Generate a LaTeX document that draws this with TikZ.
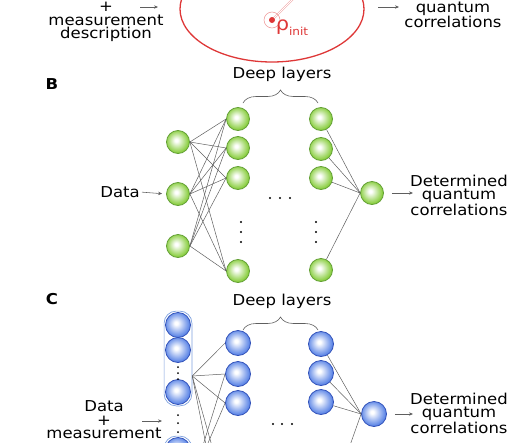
\documentclass[tikz,border=0pt]{standalone}
\usepackage{fontspec}
\setmainfont{DejaVu Sans}[FakeStretch=1.1]
\usetikzlibrary{arrows.meta,decorations.pathreplacing,fit}

\definecolor{ballgreen}{RGB}{135,205,60}
\definecolor{rimgreen}{RGB}{100,160,55}
\definecolor{ballblue}{RGB}{90,132,230}
\definecolor{rimblue}{RGB}{50,82,185}
\definecolor{boxblue}{RGB}{125,160,222}
\definecolor{initred}{RGB}{222,55,55}
\definecolor{wiregray}{RGB}{95,95,95}

\pgfdeclareradialshading{greenball}{\pgfpoint{-4bp}{4bp}}{color(0bp)=(white); color(3bp)=(white); color(16bp)=(ballgreen!60!white); color(25bp)=(ballgreen); color(50bp)=(ballgreen)}
\pgfdeclareradialshading{blueball}{\pgfpoint{-4bp}{4bp}}{color(0bp)=(white); color(3bp)=(white); color(16bp)=(ballblue!60!white); color(25bp)=(ballblue); color(50bp)=(ballblue)}

\begin{document}
\begin{tikzpicture}[x=1pt,y=-1pt,font=\fontsize{15}{13.5}\selectfont,
  green neuron/.style={circle,draw=rimgreen,line width=0.8pt,shade,shading=greenball,minimum size=23pt,inner sep=0pt},
  blue neuron/.style={circle,draw=rimblue,line width=0.8pt,shade,shading=blueball,minimum size=25pt,inner sep=0pt},
  wire/.style={draw=wiregray,line width=0.5pt},
  thin arrow/.style={draw=wiregray,line width=0.55pt,-{Stealth[length=4pt,width=3.4pt]}},
  layer brace/.style={draw=wiregray,line width=0.6pt,decorate,decoration={brace,amplitude=13pt}},
  column box/.style={draw=boxblue,line width=0.7pt,rounded corners=12pt,inner sep=1pt},
  side text/.style={align=center,inner sep=0pt},
  panel/.style={font=\fontsize{15}{15}\selectfont\bfseries}]

\useasboundingbox (0,0) rectangle (530,442);
\clip (0,0) rectangle (530,442);

% top panel
\draw[initred,line width=1.3pt] (272,9) ellipse [x radius=92,y radius=53];
\draw[initred!45,line width=0.4pt,double=white,double distance=1pt] (272,20) -- (298,-6);
\draw[initred!55,line width=0.5pt] (272,20) circle [radius=8];
\fill[initred] (272,20) circle [radius=3];
\node[initred,inner sep=0pt] (rho) at (292,28) {\fontsize{19}{19}\selectfont ρ\raisebox{-0.5ex}{\fontsize{11}{11}\selectfont init}};

\node[side text] (adesc) at (106,22) {+\\measurement\\description};
\node[side text] (ares) at (453,15) {quantum\\correlations};
\coordinate (ain1) at (140,7);
\coordinate (ain2) at (158,7);
\coordinate (aout1) at (378,7);
\coordinate (aout2) at (399,7);
\draw[thin arrow] (ain1) -- (ain2);
\draw[thin arrow] (aout1) -- (aout2);

% panel B
\node[panel] (blabel) at (52,84) {B};
\node (btitle) at (282,74) {Deep layers};
\draw[layer brace] (243,103) -- (318,103);

\foreach \n/\y in {1/142,2/194,3/246}
  \node[green neuron] (bi\n) at (178,\y) {};
\foreach \n/\y in {1/119,2/148,3/178,4/271}
  \node[green neuron] (ba\n) at (238,\y) {};
\foreach \n/\y in {1/119,2/149,3/178,4/270}
  \node[green neuron] (bb\n) at (321,\y) {};
\node[green neuron] (bout) at (372,193) {};

\foreach \i in {1,2,3}
  \foreach \j in {1,...,4}
    \draw[wire] (bi\i.east) -- (ba\j.west);
\foreach \j in {1,...,4}
  \draw[wire] (bb\j) -- (bout.west);

\foreach \y in {222,232,242} {
  \fill (241,\y) circle [radius=1.2];
  \fill (316,\y) circle [radius=1.2];
}
\foreach \x in {270,280,290}
  \fill (\x,198) circle [radius=1.2];

\node[side text,anchor=east] (bdata) at (140,192) {Data};
\draw[thin arrow,shorten <=2pt,shorten >=4pt] (bdata.east) -- (bi2.west);
\node[side text] (bres) at (459,195) {Determined\\quantum\\correlations};
\draw[thin arrow,shorten <=8pt,shorten >=-3pt] (bout.east) -- (bout -| bres.west);

% panel C
\node[panel] (clabel) at (52,299) {C};
\node (ctitle) at (282,301) {Deep layers};
\draw[layer brace] (243,330) -- (318,330);

\foreach \n/\y in {1/325,2/350,3/392,4/450}
  \node[blue neuron] (ci\n) at (178,\y) {};
\node[column box,fit=(ci1)(ci3)] (box1) {};
\node[column box,fit=(ci4)] (box2) {};
\foreach \y in {367,373,379,415,423,432}
  \fill (178,\y) circle [radius=1];

\foreach \n/\y in {1/343,2/374,3/403}
  \node[blue neuron] (cd\n) at (238,\y) {};
\foreach \n/\y in {1/344,2/373,3/402}
  \node[blue neuron] (ce\n) at (321,\y) {};
\node[blue neuron] (cout) at (374,414) {};

\coordinate (hub1) at ([yshift=-17.5pt]box1.east);
\coordinate (hub2) at ([yshift=-30pt]box2.east);
\coordinate (cd4) at (226,496);
\coordinate (cd5) at (226,545);
\coordinate (ce4) at (332,496);
\foreach \j in {cd1.west,cd2.west,cd3.west,cd4,cd5}
  \draw[wire] (hub1) -- (\j);
\foreach \j in {cd2.west,cd3.west}
  \draw[wire] (hub2) -- (\j);
\foreach \j in {ce1,ce2,ce3,ce4}
  \draw[wire] (\j) -- (cout.west);

\foreach \x in {273,282,292}
  \fill (\x,424) circle [radius=1.2];

\node[side text] (cdata) at (104,420) {Data\\+\\measurement};
\coordinate (cin1) at (142,421);
\coordinate (cin2) at (162,421);
\draw[thin arrow] (cin1) -- (cin2);
\node[side text] (cres) at (459,413) {Determined\\quantum\\correlations};
\draw[thin arrow,shorten <=8pt,shorten >=-3pt] (cout.east) -- (cout -| cres.west);

\end{tikzpicture}
\end{document}
